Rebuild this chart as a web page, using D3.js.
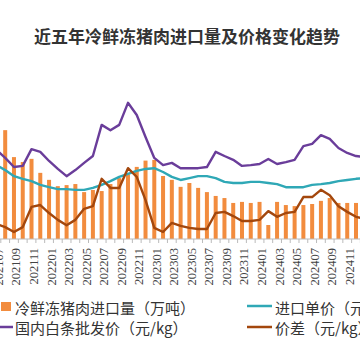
<!DOCTYPE html>
<html><head><meta charset="utf-8">
<script src="https://cdn.jsdelivr.net/npm/d3@7"></script>
<style>
html,body{margin:0;padding:0;background:#fff;}
svg{display:block;}
</style></head>
<body>
<svg id="c" width="360" height="360"></svg>
<script>
const title = "近五年冷鲜冻猪肉进口量及价格变化趋势";
const months = ["202107","202108","202109","202110","202111","202112",
"202201","202202","202203","202204","202205","202206","202207","202208","202209","202210","202211","202212",
"202301","202302","202303","202304","202305","202306","202307","202308","202309","202310","202311","202312",
"202401","202402","202403","202404","202405","202406","202407","202408","202409","202410","202411","202412","202501"];
// 冷鲜冻猪肉进口量（万吨）
const importVol = [null,31.1,23.4,22.0,22.9,18.9,
16.9,15.1,15.4,15.7,13.4,14.0,13.7,15.7,17.4,18.5,20.6,22.4,
22.6,18.0,16.9,14.9,16.0,14.6,13.4,12.3,11.7,10.3,10.6,10.3,
10.6,4.0,10.6,9.7,9.4,9.7,10.0,10.9,11.7,10.3,10.3,10.3,null];
// 进口单价（元/kg）
const importPrice = [19.7,18.4,16.8,16.1,15.5,14.5,
13.9,13.4,13.4,13.2,13.2,13.7,14.5,15.5,16.6,17.4,18.2,18.7,
18.9,17.9,16.6,15.8,16.3,16.8,16.8,16.3,15.3,15.0,15.0,15.3,
15.3,15.0,14.7,13.9,13.9,13.9,14.5,14.7,15.0,15.5,15.8,16.1,16.3];
// 国内白条批发价（元/kg）
const domPrice = [23.7,21.6,19.2,19.5,23.9,23.2,
20.8,18.7,16.8,18.4,20.3,22.1,30.3,28.9,30.3,36.1,32.9,27.1,
21.6,19.7,20.3,18.9,18.9,18.9,19.2,23.2,22.1,21.1,19.5,19.7,
20.0,21.3,20.0,20.5,21.1,24.7,25.3,27.6,26.6,24.2,22.9,22.1,21.8];
// 价差（元/kg）
const spread = [4.2,3.4,2.1,3.4,8.7,9.2,
7.1,5.3,3.9,5.3,8.2,8.9,16.1,13.7,13.7,18.9,16.6,10.5,
3.2,2.1,4.5,3.7,3.2,2.9,2.9,7.1,7.4,6.3,5.0,5.0,
5.3,7.6,6.1,7.1,7.4,11.3,11.3,13.2,11.8,8.9,7.4,6.1,5.5];
const legendLabels = ["冷鲜冻猪肉进口量（万吨）","进口单价（元/kg）","国内白条批发价（元/kg）","价差（元/kg）"];
const colors = {bar:"#F28C3E", imp:"#2FA8B6", dom:"#6A3D9A", spr:"#A3470D"};

const svg = d3.select("#c");
const x = d3.scalePoint().domain(months).range([-3.57, 364.77]);
const yL = d3.scaleLinear().domain([0,40]).range([239,99]);
const yR = d3.scaleLinear().domain([0,40]).range([240,88]);

svg.append("text").attr("x",187).attr("y",43).attr("text-anchor","middle")
  .attr("font-family","'Noto Sans CJK SC'").attr("font-weight","bold").attr("font-size",17)
  .attr("fill","#333").text(title);

// bars
const bw = 4;
svg.append("g").selectAll("rect").data(months.map((m,i)=>({m,v:importVol[i]})).filter(d=>d.v!=null))
  .join("rect").attr("x",d=>x(d.m)-bw/2).attr("width",bw)
  .attr("y",d=>yL(d.v)).attr("height",d=>yL(0)-yL(d.v)).attr("fill",colors.bar);

// axis
const axisG = svg.append("g").attr("transform","translate(0,239)");
axisG.append("line").attr("x1",0).attr("x2",360).attr("y1",0).attr("y2",0).attr("stroke","#bbb");
const step = x.step();
axisG.selectAll("line.t").data(months).join("line").attr("class","t")
  .attr("x1",d=>x(d)+step/2).attr("x2",d=>x(d)+step/2).attr("y1",0).attr("y2",4).attr("stroke","#bbb");
svg.append("g").selectAll("text").data(months.filter((m,i)=>i%2===0)).join("text")
  .attr("transform",d=>`translate(${x(d)+2.5},248) rotate(-90)`)
  .attr("text-anchor","end").attr("dominant-baseline","central")
  .attr("font-family","'Liberation Serif'").attr("font-size",12.5).attr("fill","#444").text(d=>d);

// lines
function drawLine(vals,col){
  const line = d3.line().x((d,i)=>x(months[i])).y(d=>yR(d)).defined(d=>d!=null);
  svg.append("path").datum(vals).attr("d",line).attr("fill","none")
    .attr("stroke",col).attr("stroke-width",2.4).attr("stroke-linejoin","round");
}
drawLine(importPrice,colors.imp);
drawLine(domPrice,colors.dom);
drawLine(spread,colors.spr);

// legend
const lf = "'Noto Sans CJK SC'";
const lg = svg.append("g").attr("font-family",lf).attr("font-size",15).attr("fill","#333");
lg.append("rect").attr("x",1).attr("y",302).attr("width",10).attr("height",9).attr("fill",colors.bar);
lg.append("text").attr("x",15).attr("y",307).attr("dominant-baseline","central").text(legendLabels[0]);
lg.append("line").attr("x1",247).attr("x2",272).attr("y1",306).attr("y2",306).attr("stroke",colors.imp).attr("stroke-width",2.5);
lg.append("text").attr("x",275).attr("y",307).attr("dominant-baseline","central").text(legendLabels[1]);
lg.append("line").attr("x1",0).attr("x2",13).attr("y1",327).attr("y2",327).attr("stroke",colors.dom).attr("stroke-width",2.5);
lg.append("text").attr("x",15).attr("y",327).attr("dominant-baseline","central").text(legendLabels[2]);
lg.append("line").attr("x1",247).attr("x2",272).attr("y1",327).attr("y2",327).attr("stroke",colors.spr).attr("stroke-width",2.5);
lg.append("text").attr("x",275).attr("y",327).attr("dominant-baseline","central").text(legendLabels[3]);
</script>
</body></html>
